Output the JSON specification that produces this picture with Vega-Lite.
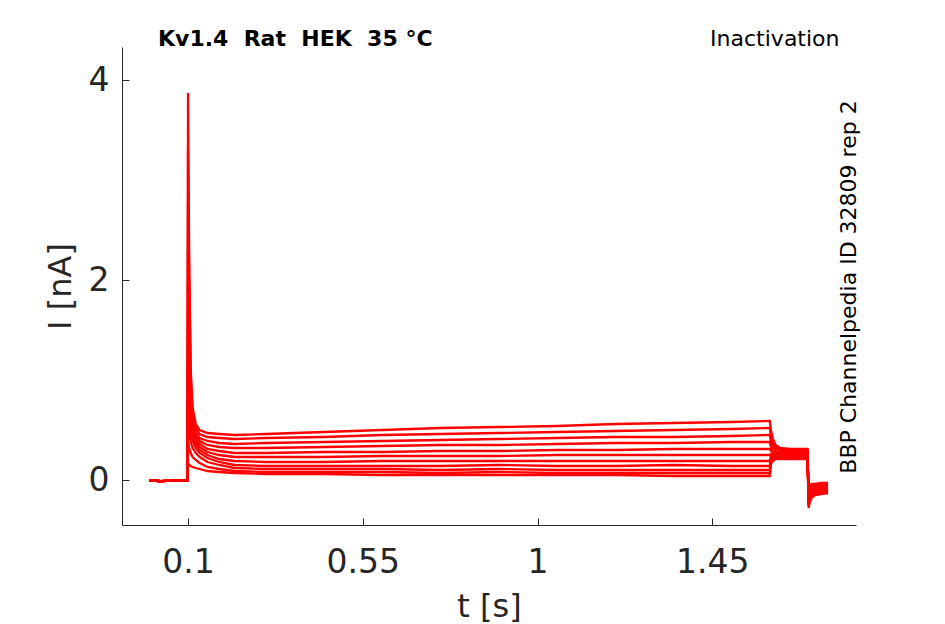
{
  "$schema": "https://vega.github.io/schema/vega-lite/v6.json",
  "width": 734,
  "height": 478,
  "autosize": {"type": "none"},
  "padding": {"left": 122, "top": 47, "right": 89, "bottom": 99},
  "title": {
    "text": "Kv1.4\u00a0 Rat\u00a0 HEK\u00a0 35 °C",
    "anchor": "start",
    "frame": "group",
    "dx": 36,
    "offset": -40,
    "baseline": "alphabetic",
    "font": "DejaVu Sans",
    "fontSize": 22,
    "fontWeight": "bold",
    "color": "#000000"
  },
  "data": {
    "values": [
      {"k":1,"t":0,"i":-0.005},{"k":1,"t":0.03,"i":-0.012},{"k":1,"t":0.06,"i":-0.006},{"k":1,"t":0.099,"i":-0.008},
      {"k":1,"t":0.1,"i":3.87},{"k":1,"t":0.103,"i":2.2},{"k":1,"t":0.107,"i":1.1},{"k":1,"t":0.112,"i":0.72},{"k":1,"t":0.12,"i":0.56},{"k":1,"t":0.13,"i":0.5},{"k":1,"t":0.15,"i":0.47},{"k":1,"t":0.18,"i":0.46},{"k":1,"t":0.22,"i":0.45},
      {"k":1,"t":0.3,"i":0.46},{"k":1,"t":0.45,"i":0.48},{"k":1,"t":0.6,"i":0.5},{"k":1,"t":0.75,"i":0.52},{"k":1,"t":0.9,"i":0.53},{"k":1,"t":1.05,"i":0.54},{"k":1,"t":1.2,"i":0.56},{"k":1,"t":1.35,"i":0.57},{"k":1,"t":1.5,"i":0.58},{"k":1,"t":1.598,"i":0.59},
      {"k":1,"t":1.601,"i":0.5},{"k":1,"t":1.606,"i":0.41},{"k":1,"t":1.613,"i":0.35},{"k":1,"t":1.625,"i":0.32},{"k":1,"t":1.65,"i":0.31},{"k":1,"t":1.695,"i":0.31},
      {"k":1,"t":1.698,"i":-0.28},{"k":1,"t":1.701,"i":-0.22},{"k":1,"t":1.706,"i":-0.18},{"k":1,"t":1.715,"i":-0.15},{"k":1,"t":1.73,"i":-0.14},{"k":1,"t":1.748,"i":-0.13},

      {"k":2,"t":0,"i":-0.005},{"k":2,"t":0.03,"i":-0.012},{"k":2,"t":0.06,"i":-0.006},{"k":2,"t":0.099,"i":-0.008},
      {"k":2,"t":0.1,"i":3.3},{"k":2,"t":0.103,"i":2.0},{"k":2,"t":0.107,"i":1.0},{"k":2,"t":0.112,"i":0.66},{"k":2,"t":0.12,"i":0.52},{"k":2,"t":0.13,"i":0.46},{"k":2,"t":0.15,"i":0.43},{"k":2,"t":0.18,"i":0.42},{"k":2,"t":0.22,"i":0.41},
      {"k":2,"t":0.3,"i":0.42},{"k":2,"t":0.45,"i":0.43},{"k":2,"t":0.6,"i":0.45},{"k":2,"t":0.75,"i":0.46},{"k":2,"t":0.9,"i":0.47},{"k":2,"t":1.05,"i":0.48},{"k":2,"t":1.2,"i":0.49},{"k":2,"t":1.35,"i":0.5},{"k":2,"t":1.5,"i":0.51},{"k":2,"t":1.598,"i":0.52},
      {"k":2,"t":1.601,"i":0.44},{"k":2,"t":1.606,"i":0.37},{"k":2,"t":1.613,"i":0.33},{"k":2,"t":1.625,"i":0.31},{"k":2,"t":1.65,"i":0.3},{"k":2,"t":1.695,"i":0.3},
      {"k":2,"t":1.698,"i":-0.26},{"k":2,"t":1.701,"i":-0.2},{"k":2,"t":1.706,"i":-0.16},{"k":2,"t":1.715,"i":-0.14},{"k":2,"t":1.73,"i":-0.13},{"k":2,"t":1.748,"i":-0.12},

      {"k":3,"t":0,"i":-0.005},{"k":3,"t":0.03,"i":-0.012},{"k":3,"t":0.06,"i":-0.006},{"k":3,"t":0.099,"i":-0.008},
      {"k":3,"t":0.1,"i":2.75},{"k":3,"t":0.103,"i":1.7},{"k":3,"t":0.107,"i":0.9},{"k":3,"t":0.112,"i":0.6},{"k":3,"t":0.12,"i":0.48},{"k":3,"t":0.13,"i":0.42},{"k":3,"t":0.15,"i":0.39},{"k":3,"t":0.18,"i":0.37},{"k":3,"t":0.22,"i":0.36},
      {"k":3,"t":0.3,"i":0.37},{"k":3,"t":0.45,"i":0.38},{"k":3,"t":0.6,"i":0.39},{"k":3,"t":0.75,"i":0.4},{"k":3,"t":0.9,"i":0.41},{"k":3,"t":1.05,"i":0.42},{"k":3,"t":1.2,"i":0.43},{"k":3,"t":1.35,"i":0.43},{"k":3,"t":1.5,"i":0.44},{"k":3,"t":1.598,"i":0.45},
      {"k":3,"t":1.601,"i":0.38},{"k":3,"t":1.606,"i":0.33},{"k":3,"t":1.613,"i":0.31},{"k":3,"t":1.625,"i":0.3},{"k":3,"t":1.65,"i":0.29},{"k":3,"t":1.695,"i":0.29},
      {"k":3,"t":1.698,"i":-0.24},{"k":3,"t":1.701,"i":-0.18},{"k":3,"t":1.706,"i":-0.15},{"k":3,"t":1.715,"i":-0.13},{"k":3,"t":1.73,"i":-0.12},{"k":3,"t":1.748,"i":-0.11},

      {"k":4,"t":0,"i":-0.005},{"k":4,"t":0.03,"i":-0.012},{"k":4,"t":0.06,"i":-0.006},{"k":4,"t":0.099,"i":-0.008},
      {"k":4,"t":0.1,"i":2.3},{"k":4,"t":0.103,"i":1.45},{"k":4,"t":0.107,"i":0.8},{"k":4,"t":0.112,"i":0.56},{"k":4,"t":0.12,"i":0.45},{"k":4,"t":0.13,"i":0.39},{"k":4,"t":0.15,"i":0.35},{"k":4,"t":0.18,"i":0.33},{"k":4,"t":0.22,"i":0.32},
      {"k":4,"t":0.3,"i":0.32},{"k":4,"t":0.45,"i":0.33},{"k":4,"t":0.6,"i":0.34},{"k":4,"t":0.75,"i":0.35},{"k":4,"t":0.9,"i":0.35},{"k":4,"t":1.05,"i":0.36},{"k":4,"t":1.2,"i":0.37},{"k":4,"t":1.35,"i":0.37},{"k":4,"t":1.5,"i":0.38},{"k":4,"t":1.598,"i":0.38},
      {"k":4,"t":1.601,"i":0.33},{"k":4,"t":1.606,"i":0.3},{"k":4,"t":1.613,"i":0.29},{"k":4,"t":1.625,"i":0.28},{"k":4,"t":1.65,"i":0.28},{"k":4,"t":1.695,"i":0.28},
      {"k":4,"t":1.698,"i":-0.22},{"k":4,"t":1.701,"i":-0.17},{"k":4,"t":1.706,"i":-0.14},{"k":4,"t":1.715,"i":-0.12},{"k":4,"t":1.73,"i":-0.11},{"k":4,"t":1.748,"i":-0.1},

      {"k":5,"t":0,"i":-0.005},{"k":5,"t":0.03,"i":-0.012},{"k":5,"t":0.06,"i":-0.006},{"k":5,"t":0.099,"i":-0.008},
      {"k":5,"t":0.1,"i":1.9},{"k":5,"t":0.103,"i":1.2},{"k":5,"t":0.107,"i":0.72},{"k":5,"t":0.112,"i":0.52},{"k":5,"t":0.12,"i":0.42},{"k":5,"t":0.13,"i":0.36},{"k":5,"t":0.15,"i":0.31},{"k":5,"t":0.18,"i":0.29},{"k":5,"t":0.22,"i":0.27},
      {"k":5,"t":0.3,"i":0.27},{"k":5,"t":0.45,"i":0.28},{"k":5,"t":0.6,"i":0.28},{"k":5,"t":0.75,"i":0.29},{"k":5,"t":0.9,"i":0.29},{"k":5,"t":1.05,"i":0.3},{"k":5,"t":1.2,"i":0.3},{"k":5,"t":1.35,"i":0.31},{"k":5,"t":1.5,"i":0.31},{"k":5,"t":1.598,"i":0.31},
      {"k":5,"t":1.601,"i":0.29},{"k":5,"t":1.606,"i":0.28},{"k":5,"t":1.613,"i":0.27},{"k":5,"t":1.625,"i":0.27},{"k":5,"t":1.65,"i":0.27},{"k":5,"t":1.695,"i":0.27},
      {"k":5,"t":1.698,"i":-0.2},{"k":5,"t":1.701,"i":-0.15},{"k":5,"t":1.706,"i":-0.12},{"k":5,"t":1.715,"i":-0.11},{"k":5,"t":1.73,"i":-0.1},{"k":5,"t":1.748,"i":-0.09},

      {"k":6,"t":0,"i":-0.005},{"k":6,"t":0.03,"i":-0.012},{"k":6,"t":0.06,"i":-0.006},{"k":6,"t":0.099,"i":-0.008},
      {"k":6,"t":0.1,"i":1.5},{"k":6,"t":0.103,"i":1.0},{"k":6,"t":0.107,"i":0.64},{"k":6,"t":0.112,"i":0.48},{"k":6,"t":0.12,"i":0.39},{"k":6,"t":0.13,"i":0.33},{"k":6,"t":0.15,"i":0.28},{"k":6,"t":0.18,"i":0.25},{"k":6,"t":0.22,"i":0.23},
      {"k":6,"t":0.3,"i":0.23},{"k":6,"t":0.45,"i":0.23},{"k":6,"t":0.6,"i":0.24},{"k":6,"t":0.75,"i":0.24},{"k":6,"t":0.9,"i":0.24},{"k":6,"t":1.05,"i":0.25},{"k":6,"t":1.2,"i":0.25},{"k":6,"t":1.35,"i":0.25},{"k":6,"t":1.5,"i":0.25},{"k":6,"t":1.598,"i":0.25},
      {"k":6,"t":1.601,"i":0.26},{"k":6,"t":1.606,"i":0.26},{"k":6,"t":1.613,"i":0.26},{"k":6,"t":1.625,"i":0.26},{"k":6,"t":1.65,"i":0.26},{"k":6,"t":1.695,"i":0.26},
      {"k":6,"t":1.698,"i":-0.18},{"k":6,"t":1.701,"i":-0.13},{"k":6,"t":1.706,"i":-0.11},{"k":6,"t":1.715,"i":-0.1},{"k":6,"t":1.73,"i":-0.09},{"k":6,"t":1.748,"i":-0.08},

      {"k":7,"t":0,"i":-0.005},{"k":7,"t":0.03,"i":-0.012},{"k":7,"t":0.06,"i":-0.006},{"k":7,"t":0.099,"i":-0.008},
      {"k":7,"t":0.1,"i":1.15},{"k":7,"t":0.103,"i":0.82},{"k":7,"t":0.107,"i":0.56},{"k":7,"t":0.112,"i":0.44},{"k":7,"t":0.12,"i":0.36},{"k":7,"t":0.13,"i":0.3},{"k":7,"t":0.15,"i":0.25},{"k":7,"t":0.18,"i":0.21},{"k":7,"t":0.22,"i":0.19},
      {"k":7,"t":0.3,"i":0.18},{"k":7,"t":0.45,"i":0.18},{"k":7,"t":0.6,"i":0.19},{"k":7,"t":0.75,"i":0.19},{"k":7,"t":0.9,"i":0.19},{"k":7,"t":1.05,"i":0.19},{"k":7,"t":1.2,"i":0.19},{"k":7,"t":1.35,"i":0.19},{"k":7,"t":1.5,"i":0.19},{"k":7,"t":1.598,"i":0.19},
      {"k":7,"t":1.601,"i":0.24},{"k":7,"t":1.606,"i":0.25},{"k":7,"t":1.613,"i":0.25},{"k":7,"t":1.625,"i":0.25},{"k":7,"t":1.65,"i":0.25},{"k":7,"t":1.695,"i":0.25},
      {"k":7,"t":1.698,"i":-0.16},{"k":7,"t":1.701,"i":-0.12},{"k":7,"t":1.706,"i":-0.1},{"k":7,"t":1.715,"i":-0.08},{"k":7,"t":1.73,"i":-0.07},{"k":7,"t":1.748,"i":-0.07},

      {"k":8,"t":0,"i":-0.005},{"k":8,"t":0.03,"i":-0.012},{"k":8,"t":0.06,"i":-0.006},{"k":8,"t":0.099,"i":-0.008},
      {"k":8,"t":0.1,"i":0.85},{"k":8,"t":0.103,"i":0.64},{"k":8,"t":0.107,"i":0.47},{"k":8,"t":0.112,"i":0.39},{"k":8,"t":0.12,"i":0.32},{"k":8,"t":0.13,"i":0.27},{"k":8,"t":0.15,"i":0.22},{"k":8,"t":0.18,"i":0.18},{"k":8,"t":0.22,"i":0.15},
      {"k":8,"t":0.3,"i":0.14},{"k":8,"t":0.45,"i":0.14},{"k":8,"t":0.6,"i":0.14},{"k":8,"t":0.75,"i":0.14},{"k":8,"t":0.9,"i":0.15},{"k":8,"t":1.05,"i":0.14},{"k":8,"t":1.2,"i":0.14},{"k":8,"t":1.35,"i":0.15},{"k":8,"t":1.5,"i":0.14},{"k":8,"t":1.598,"i":0.14},
      {"k":8,"t":1.601,"i":0.22},{"k":8,"t":1.606,"i":0.24},{"k":8,"t":1.613,"i":0.24},{"k":8,"t":1.625,"i":0.24},{"k":8,"t":1.65,"i":0.24},{"k":8,"t":1.695,"i":0.24},
      {"k":8,"t":1.698,"i":-0.14},{"k":8,"t":1.701,"i":-0.1},{"k":8,"t":1.706,"i":-0.08},{"k":8,"t":1.715,"i":-0.07},{"k":8,"t":1.73,"i":-0.06},{"k":8,"t":1.748,"i":-0.06},

      {"k":9,"t":0,"i":-0.005},{"k":9,"t":0.03,"i":-0.012},{"k":9,"t":0.06,"i":-0.006},{"k":9,"t":0.099,"i":-0.008},
      {"k":9,"t":0.1,"i":0.6},{"k":9,"t":0.103,"i":0.48},{"k":9,"t":0.107,"i":0.38},{"k":9,"t":0.112,"i":0.32},{"k":9,"t":0.12,"i":0.27},{"k":9,"t":0.13,"i":0.23},{"k":9,"t":0.15,"i":0.18},{"k":9,"t":0.18,"i":0.15},{"k":9,"t":0.22,"i":0.12},
      {"k":9,"t":0.3,"i":0.11},{"k":9,"t":0.45,"i":0.11},{"k":9,"t":0.6,"i":0.11},{"k":9,"t":0.75,"i":0.1},{"k":9,"t":0.9,"i":0.11},{"k":9,"t":1.05,"i":0.1},{"k":9,"t":1.2,"i":0.1},{"k":9,"t":1.35,"i":0.1},{"k":9,"t":1.5,"i":0.1},{"k":9,"t":1.598,"i":0.1},
      {"k":9,"t":1.601,"i":0.2},{"k":9,"t":1.606,"i":0.22},{"k":9,"t":1.613,"i":0.23},{"k":9,"t":1.625,"i":0.23},{"k":9,"t":1.65,"i":0.23},{"k":9,"t":1.695,"i":0.23},
      {"k":9,"t":1.698,"i":-0.12},{"k":9,"t":1.701,"i":-0.09},{"k":9,"t":1.706,"i":-0.07},{"k":9,"t":1.715,"i":-0.06},{"k":9,"t":1.73,"i":-0.05},{"k":9,"t":1.748,"i":-0.05},

      {"k":10,"t":0,"i":-0.005},{"k":10,"t":0.03,"i":-0.012},{"k":10,"t":0.06,"i":-0.006},{"k":10,"t":0.099,"i":-0.008},
      {"k":10,"t":0.1,"i":0.38},{"k":10,"t":0.103,"i":0.32},{"k":10,"t":0.107,"i":0.27},{"k":10,"t":0.112,"i":0.23},{"k":10,"t":0.12,"i":0.2},{"k":10,"t":0.13,"i":0.17},{"k":10,"t":0.15,"i":0.13},{"k":10,"t":0.18,"i":0.11},{"k":10,"t":0.22,"i":0.09},
      {"k":10,"t":0.3,"i":0.08},{"k":10,"t":0.45,"i":0.08},{"k":10,"t":0.6,"i":0.08},{"k":10,"t":0.75,"i":0.07},{"k":10,"t":0.9,"i":0.08},{"k":10,"t":1.05,"i":0.07},{"k":10,"t":1.2,"i":0.07},{"k":10,"t":1.35,"i":0.07},{"k":10,"t":1.5,"i":0.07},{"k":10,"t":1.598,"i":0.07},
      {"k":10,"t":1.601,"i":0.18},{"k":10,"t":1.606,"i":0.21},{"k":10,"t":1.613,"i":0.22},{"k":10,"t":1.625,"i":0.22},{"k":10,"t":1.65,"i":0.22},{"k":10,"t":1.695,"i":0.22},
      {"k":10,"t":1.698,"i":-0.1},{"k":10,"t":1.701,"i":-0.07},{"k":10,"t":1.706,"i":-0.05},{"k":10,"t":1.715,"i":-0.05},{"k":10,"t":1.73,"i":-0.04},{"k":10,"t":1.748,"i":-0.04},

      {"k":11,"t":0,"i":-0.005},{"k":11,"t":0.03,"i":-0.012},{"k":11,"t":0.06,"i":-0.006},{"k":11,"t":0.099,"i":-0.008},
      {"k":11,"t":0.1,"i":0.17},{"k":11,"t":0.103,"i":0.15},{"k":11,"t":0.107,"i":0.14},{"k":11,"t":0.112,"i":0.13},{"k":11,"t":0.12,"i":0.12},{"k":11,"t":0.13,"i":0.11},{"k":11,"t":0.15,"i":0.09},{"k":11,"t":0.18,"i":0.08},{"k":11,"t":0.22,"i":0.07},
      {"k":11,"t":0.3,"i":0.06},{"k":11,"t":0.45,"i":0.06},{"k":11,"t":0.6,"i":0.05},{"k":11,"t":0.75,"i":0.05},{"k":11,"t":0.9,"i":0.05},{"k":11,"t":1.05,"i":0.05},{"k":11,"t":1.2,"i":0.05},{"k":11,"t":1.35,"i":0.04},{"k":11,"t":1.5,"i":0.04},{"k":11,"t":1.598,"i":0.04},
      {"k":11,"t":1.601,"i":0.16},{"k":11,"t":1.606,"i":0.19},{"k":11,"t":1.613,"i":0.21},{"k":11,"t":1.625,"i":0.21},{"k":11,"t":1.65,"i":0.21},{"k":11,"t":1.695,"i":0.21},
      {"k":11,"t":1.698,"i":-0.08},{"k":11,"t":1.701,"i":-0.05},{"k":11,"t":1.706,"i":-0.04},{"k":11,"t":1.715,"i":-0.04},{"k":11,"t":1.73,"i":-0.03},{"k":11,"t":1.748,"i":-0.03}
    ]
  },
  "encoding": {
    "x": {"field": "t", "type": "quantitative", "scale": {"domain": [-0.07, 1.82], "nice": false, "zero": false}},
    "y": {"field": "i", "type": "quantitative", "scale": {"domain": [-0.45, 4.33], "nice": false, "zero": false}},
    "detail": {"field": "k", "type": "nominal"}
  },
  "layer": [
    {
      "mark": {"type": "line", "color": "#ff0000", "strokeWidth": 2.3, "clip": true},
      "encoding": {
        "x": {
          "field": "t", "type": "quantitative",
          "axis": {
            "orient": "bottom", "title": "t [s]", "values": [0.1, 0.55, 1, 1.45], "labelExpr": "'' + datum.value",
            "tickSize": -7, "labelPadding": 28, "labelFlush": false, "labelOverlap": false,
            "titleX": 367, "titleY": 91, "titleAlign": "center", "titleBaseline": "alphabetic"
          }
        },
        "y": {
          "field": "i", "type": "quantitative",
          "axis": {
            "orient": "left", "title": "I [nA]", "values": [0, 2, 4],
            "tickSize": -7, "labelPadding": 20, "labelFlush": false, "labelOverlap": false,
            "titleX": -52, "titleY": 239, "titleAngle": 270, "titleAlign": "center", "titleBaseline": "alphabetic"
          }
        }
      }
    },
    {
      "mark": {"type": "line", "strokeOpacity": 0},
      "encoding": {
        "x": {
          "field": "t", "type": "quantitative",
          "axis": {
            "orient": "top", "title": "Inactivation", "domain": false, "ticks": false, "labels": false, "grid": false,
            "titleX": 717, "titleY": -1.5, "titleAlign": "right", "titleBaseline": "alphabetic",
            "titleFontSize": 22, "titleColor": "#000000"
          }
        },
        "y": {
          "field": "i", "type": "quantitative",
          "axis": {
            "orient": "right", "title": "BBP Channelpedia ID 32809 rep 2", "domain": false, "ticks": false, "labels": false, "grid": false,
            "titleX": -1, "titleY": 239.5, "titleAngle": 270, "titleAlign": "center", "titleBaseline": "alphabetic",
            "titleFontSize": 22, "titleColor": "#000000"
          }
        }
      }
    }
  ],
  "resolve": {"axis": {"x": "independent", "y": "independent"}},
  "config": {
    "view": {"stroke": null},
    "font": "DejaVu Sans",
    "axis": {
      "grid": false,
      "domainColor": "#262626",
      "domainWidth": 1,
      "tickColor": "#262626",
      "tickWidth": 1,
      "labelFont": "DejaVu Sans",
      "labelFontSize": 33,
      "labelColor": "#262626",
      "titleFont": "DejaVu Sans",
      "titleFontSize": 32,
      "titleFontWeight": "normal",
      "titleColor": "#262626"
    }
  }
}
